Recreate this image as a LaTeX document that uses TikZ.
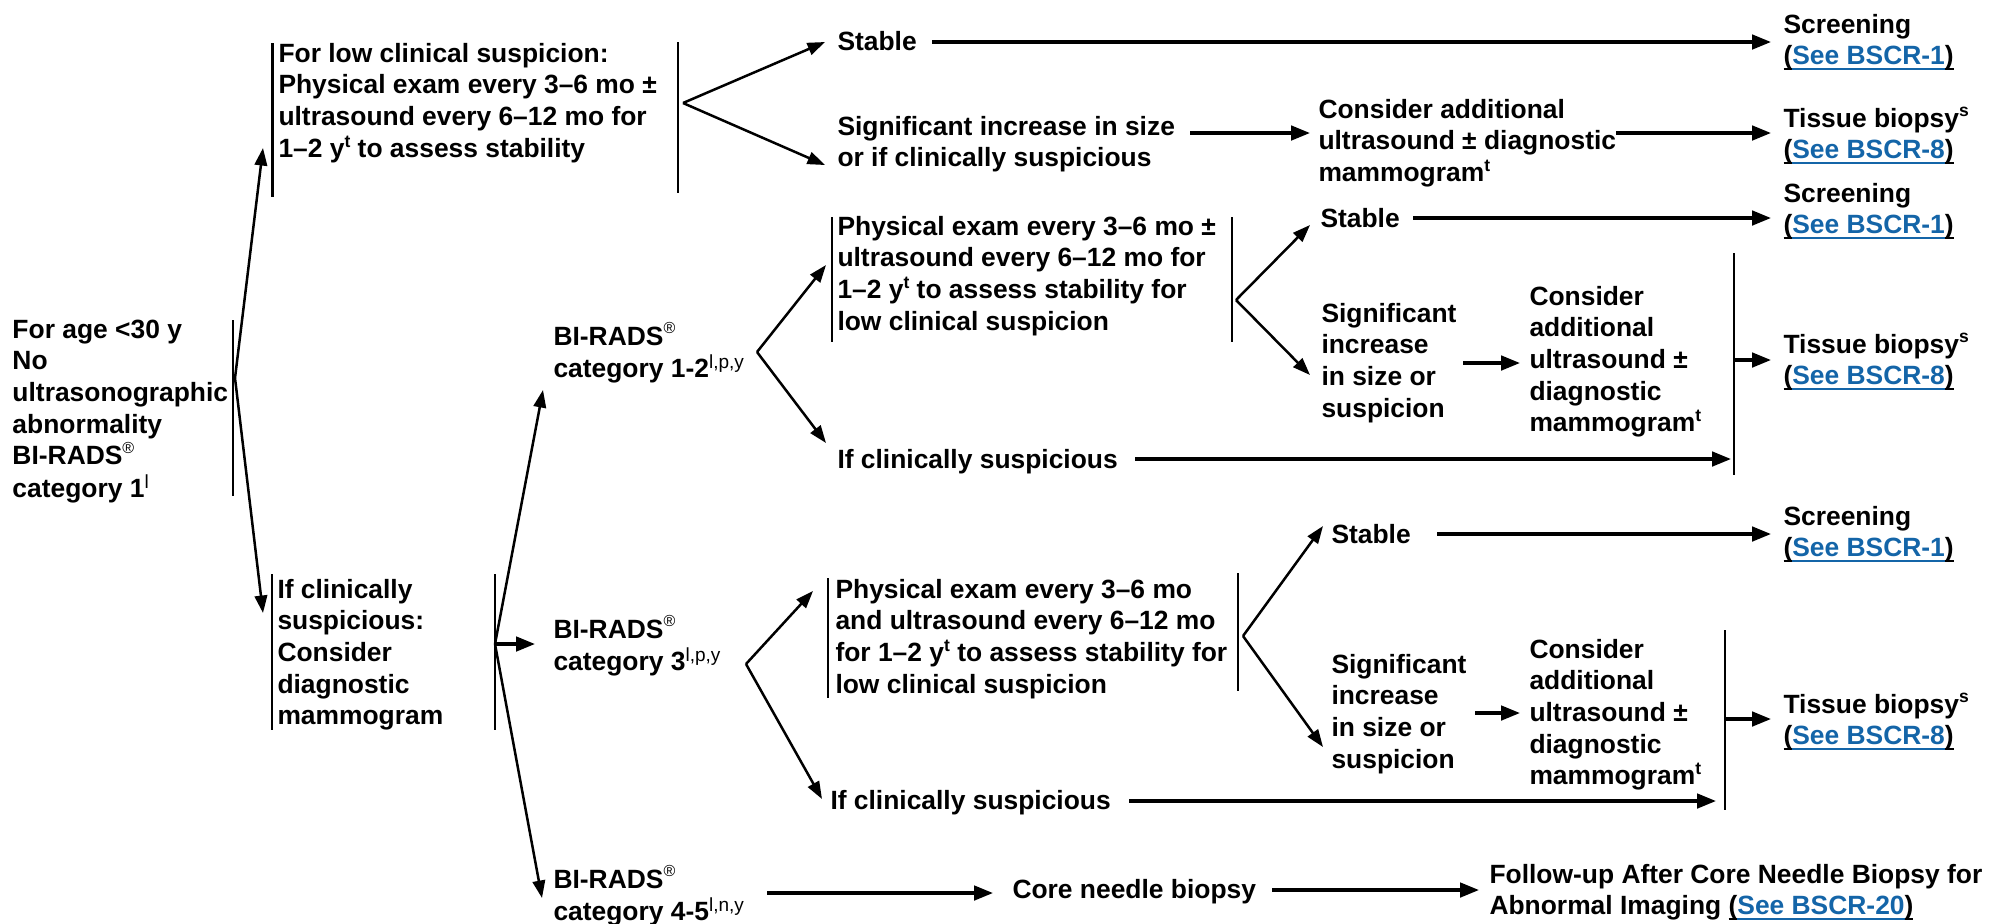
\documentclass[tikz,border=0pt]{standalone}
\usepackage{fontspec}
\setmainfont{Liberation Sans}
\usetikzlibrary{arrows.meta}
\definecolor{linkblue}{RGB}{20,101,168}
\newcommand\fsz{\fontsize{10.56}{12.68}\selectfont}
\newcommand\tlines[1]{\begin{tabular}[t]{@{}l@{}}#1\end{tabular}}
% raised note marks: bold ones and light ones
\newcommand\sups[1]{\raisebox{0.38em}{\fontsize{7}{7}\selectfont #1}}
\newcommand\supn[1]{\raisebox{0.36em}{\fontsize{7.6}{7.6}\selectfont\mdseries #1}}
\newcommand\regmark{\raisebox{0.42em}{\fontsize{6.4}{6.4}\selectfont\mdseries ®}}
\newcommand\ulbox[1]{\vtop{\hbox{\smash{#1}}\kern1.2pt\hrule height 0.8pt}}
\newcommand\seelink[1]{\ulbox{(}\textcolor{linkblue}{\ulbox{#1}}\ulbox{)}}
\begin{document}
\begin{tikzpicture}[x=0.4pt,y=-0.4pt,
  txt/.style={anchor=base west, inner sep=0pt, font=\fsz\bfseries},
  bar/.style={line width=1pt},
  sarr/.style={line width=1pt, -{Triangle[length=7pt,width=5pt]}},
  harr/.style={line width=1.3pt, -{Triangle[length=7.6pt,width=5.8pt]}}]
\useasboundingbox (0,0) rectangle (1990,923);

% ---------- text ----------
\node[txt] (root) at (12,338) {\tlines{For age <30 y\\No\\ultrasonographic\\abnormality\\BI-RADS\regmark\\category 1\supn{l}}};
\node[txt] (box1) at (278,62) {\tlines{For low clinical suspicion:\\Physical exam every 3–6 mo ±\\ultrasound every 6–12 mo for\\1–2 y\sups{t} to assess stability}};
\node[txt] (box3) at (277,598) {\tlines{If clinically\\suspicious:\\Consider\\diagnostic\\mammogram}};
\node[txt] (bir12) at (553,345) {\tlines{BI-RADS\regmark\\category 1-2\supn{l,p,y}}};
\node[txt] (bir3) at (553,638) {\tlines{BI-RADS\regmark\\category 3\supn{l,p,y}}};
\node[txt] (bir45) at (553,888) {\tlines{BI-RADS\regmark\\category 4-5\supn{l,n,y}}};
\node[txt] (stable1) at (837,50) {Stable};
\node[txt] (sig1) at (837,135) {\tlines{Significant increase in size\\or if clinically suspicious}};
\node[txt] (box2) at (837,235) {\tlines{Physical exam every 3–6 mo ±\\ultrasound every 6–12 mo for\\1–2 y\sups{t} to assess stability for\\low clinical suspicion}};
\node[txt] (ifcs1) at (837,468) {If clinically suspicious};
\node[txt] (box4) at (835,598) {\tlines{Physical exam every 3–6 mo\\and ultrasound every 6–12 mo\\for 1–2 y\sups{t} to assess stability for\\low clinical suspicion}};
\node[txt] (ifcs2) at (830,809) {If clinically suspicious};
\node[txt] (core) at (1012,898) {Core needle biopsy};
\node[txt] (cons1) at (1318,118) {\tlines{Consider additional\\ultrasound ± diagnostic\\mammogram\sups{t}}};
\node[txt] (stable2) at (1320,227) {Stable};
\node[txt] (sig2) at (1321,322) {\tlines{Significant\\increase\\in size or\\suspicion}};
\node[txt] (stable3) at (1331,543) {Stable};
\node[txt] (sig3) at (1331,673) {\tlines{Significant\\increase\\in size or\\suspicion}};
\node[txt] (cons2) at (1529,305) {\tlines{Consider\\additional\\ultrasound ±\\diagnostic\\mammogram\sups{t}}};
\node[txt] (cons3) at (1529,658) {\tlines{Consider\\additional\\ultrasound ±\\diagnostic\\mammogram\sups{t}}};
\node[txt] (scr1) at (1783,33) {\tlines{Screening\\\seelink{See BSCR-1}}};
\node[txt] (tis1) at (1783,127) {\tlines{Tissue biopsy\sups{s}\\\seelink{See BSCR-8}}};
\node[txt] (scr2) at (1783,202) {\tlines{Screening\\\seelink{See BSCR-1}}};
\node[txt] (tis2) at (1783,353) {\tlines{Tissue biopsy\sups{s}\\\seelink{See BSCR-8}}};
\node[txt] (scr3) at (1783,525) {\tlines{Screening\\\seelink{See BSCR-1}}};
\node[txt] (tis3) at (1783,713) {\tlines{Tissue biopsy\sups{s}\\\seelink{See BSCR-8}}};
\node[txt] (fu) at (1489,883) {\tlines{Follow-up After Core Needle Biopsy for\\Abnormal Imaging \seelink{See BSCR-20}}};

% ---------- brackets ----------
\draw[bar] (233,320) -- (233,496);
\draw[bar] (272.7,43) -- (272.7,197);
\draw[bar] (678,42) -- (678,193);
\draw[bar] (272,574) -- (272,730);
\draw[bar] (495,574) -- (495,730);
\draw[bar] (832,217) -- (832,342);
\draw[bar] (1232,217) -- (1232,342);
\draw[bar] (828,578) -- (828,698);
\draw[bar] (1238,573) -- (1238,691);
\draw[bar] (1734,253) -- (1734,475);
\draw[bar] (1725,630) -- (1725,810);

% ---------- connector ends ----------
\coordinate (rootJ) at (235,378);
\coordinate (b1in) at (263,148);
\coordinate (b3in) at (263,613);
\coordinate (b1out) at (683,103);
\coordinate (st1in) at (825,42);
\coordinate (sg1in) at (825,165);
\coordinate (st1out) at (932,42);
\coordinate (sc1in) at (1771,42);
\coordinate (sg1out) at (1190,133);
\coordinate (cs1in) at (1310,133);
\coordinate (cs1out) at (1616,133);
\coordinate (tb1in) at (1771,133);
\coordinate (b3out) at (495,644);
\coordinate (r3in) at (535,644);
\coordinate (r12in) at (543,390);
\coordinate (r45in) at (542,898);
\coordinate (r12out) at (757,352);
\coordinate (b2in) at (826,265);
\coordinate (if1in) at (826,443);
\coordinate (if1out) at (1135,459);
\coordinate (j1in) at (1731,459);
\coordinate (b2out) at (1236,300);
\coordinate (st2in) at (1310,225);
\coordinate (sg2in) at (1310,375);
\coordinate (st2out) at (1413,218);
\coordinate (sc2in) at (1771,218);
\coordinate (sg2out) at (1463,363);
\coordinate (cs2in) at (1520,363);
\coordinate (j1out) at (1734,360);
\coordinate (tb2in) at (1771,360);
\coordinate (r3out) at (746,664);
\coordinate (b4in) at (813,591);
\coordinate (if2in) at (822,799);
\coordinate (if2out) at (1129,801);
\coordinate (j2in) at (1716,801);
\coordinate (b4out) at (1243,636);
\coordinate (st3in) at (1323,526);
\coordinate (sg3in) at (1323,747);
\coordinate (st3out) at (1437,534);
\coordinate (sc3in) at (1771,534);
\coordinate (sg3out) at (1475,713);
\coordinate (cs3in) at (1520,713);
\coordinate (j2out) at (1725,719);
\coordinate (tb3in) at (1771,719);
\coordinate (r45out) at (767,893);
\coordinate (cnin) at (993,893);
\coordinate (cnout) at (1272,890);
\coordinate (fuin) at (1479,890);

% ---------- connectors ----------
\draw[sarr] (rootJ) -- (b1in);
\draw[sarr] (rootJ) -- (b3in);
\draw[sarr] (b1out) -- (st1in);
\draw[sarr] (b1out) -- (sg1in);
\draw[harr] (st1out) -- (sc1in);
\draw[harr] (sg1out) -- (cs1in);
\draw[harr] (cs1out) -- (tb1in);
\draw[harr] (b3out) -- (r3in);
\draw[sarr] (b3out) -- (r12in);
\draw[sarr] (b3out) -- (r45in);
\draw[sarr] (r12out) -- (b2in);
\draw[sarr] (r12out) -- (if1in);
\draw[harr] (if1out) -- (j1in);
\draw[sarr] (b2out) -- (st2in);
\draw[sarr] (b2out) -- (sg2in);
\draw[harr] (st2out) -- (sc2in);
\draw[harr] (sg2out) -- (cs2in);
\draw[harr] (j1out) -- (tb2in);
\draw[sarr] (r3out) -- (b4in);
\draw[sarr] (r3out) -- (if2in);
\draw[harr] (if2out) -- (j2in);
\draw[sarr] (b4out) -- (st3in);
\draw[sarr] (b4out) -- (sg3in);
\draw[harr] (st3out) -- (sc3in);
\draw[harr] (sg3out) -- (cs3in);
\draw[harr] (j2out) -- (tb3in);
\draw[harr] (r45out) -- (cnin);
\draw[harr] (cnout) -- (fuin);
\end{tikzpicture}
\end{document}
